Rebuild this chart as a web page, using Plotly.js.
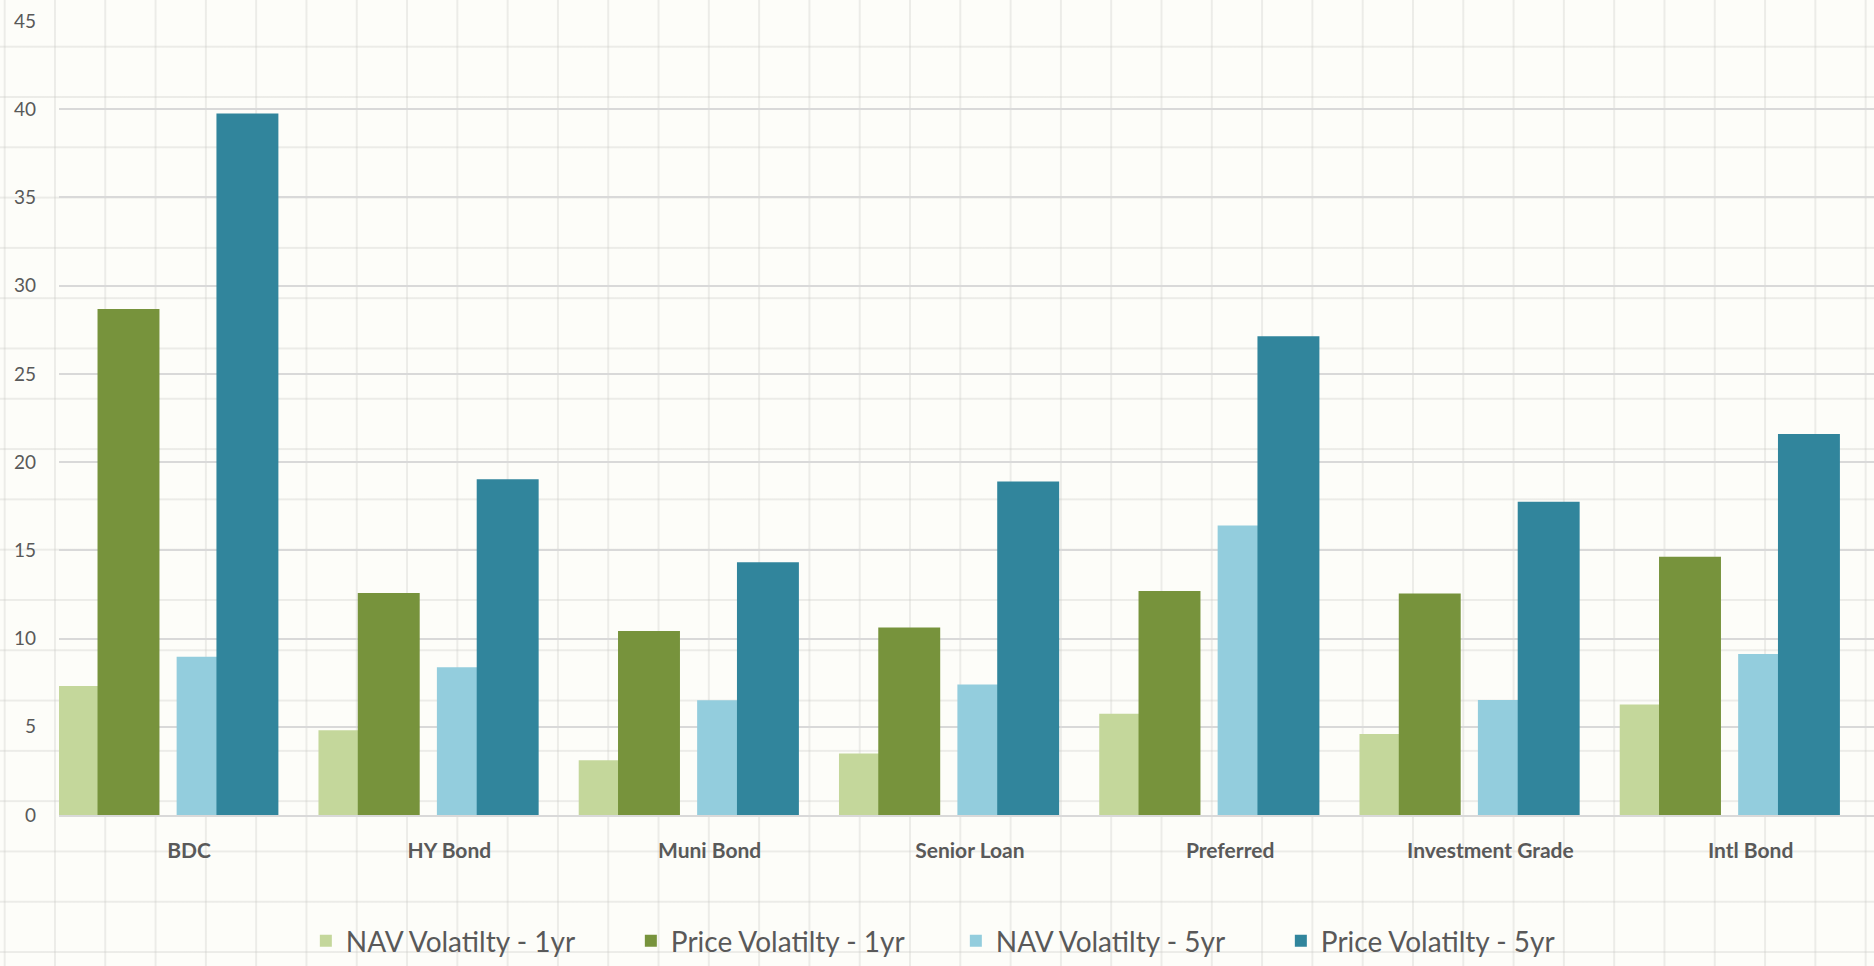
<!DOCTYPE html>
<html>
<head>
<meta charset="utf-8">
<script src="https://cdn.plot.ly/plotly-3.0.1.min.js"></script>
<style>
  html, body { margin: 0; padding: 0; }
  body {
    width: 1874px; height: 966px; overflow: hidden;
    background-color: #fdfdf9;
    background-image:
      linear-gradient(to right, rgba(200,200,196,0.32) 2px, transparent 2px),
      linear-gradient(to bottom, rgba(200,200,196,0.32) 2px, transparent 2px);
    background-size: 50.3px 50.3px;
    background-position: 3.7px -4.6px;
  }
  #chart { width: 1874px; height: 966px; }
</style>
</head>
<body>
<div id="chart"></div>
<script>
const categories = ["BDC", "HY Bond", "Muni Bond", "Senior Loan", "Preferred", "Investment Grade", "Intl Bond"];
const seriesNames = ["NAV Volatilty - 1yr", "Price Volatilty - 1yr", "NAV Volatilty - 5yr", "Price Volatilty - 5yr"];
const navVol1yr   = [7.31, 4.81, 3.10, 3.48, 5.74, 4.59, 6.26];
const priceVol1yr = [28.68, 12.58, 10.43, 10.62, 12.69, 12.55, 14.64];
const navVol5yr   = [8.97, 8.38, 6.50, 7.40, 16.41, 6.52, 9.12];
const priceVol5yr = [39.76, 19.03, 14.32, 18.90, 27.13, 17.76, 21.59];
const yTicks = [0, 5, 10, 15, 20, 25, 30, 35, 40, 45];

const colors = ["#c4d79b", "#77933c", "#93cddd", "#31859c"];
const offsets = [-0.503, -0.352, -0.048, 0.105];
const barWidth = 0.238;
const values = [navVol1yr, priceVol1yr, navVol5yr, priceVol5yr];

const traces = values.map((vals, i) => ({
  type: "bar",
  name: seriesNames[i],
  x: categories,
  y: vals,
  offset: offsets[i],
  width: barWidth,
  marker: { color: colors[i], line: { width: 0 } },
  hoverinfo: "x+y+name"
}));

const layout = {
  width: 1874,
  height: 966,
  paper_bgcolor: "rgba(0,0,0,0)",
  plot_bgcolor: "rgba(0,0,0,0)",
  barmode: "overlay",
  margin: { l: 59, r: 0, t: 21, b: 146, pad: 0 },
  font: { family: "Lato, 'Open Sans', sans-serif", color: "#595959" },
  xaxis: {
    type: "category",
    range: [-0.5, 6.474],
    showgrid: false,
    zeroline: false,
    showline: true,
    linecolor: "#d9d9d9",
    linewidth: 2,
    ticks: "",
    ticklabelstandoff: 16,
    tickfont: { family: "Lato, sans-serif", size: 21, color: "#595959", weight: "bold" }
  },
  yaxis: {
    range: [0, 45],
    tickvals: yTicks,
    ticktext: yTicks.map(String),
    showgrid: true,
    gridcolor: "#d9d9d9",
    gridwidth: 1.5,
    zeroline: false,
    showline: false,
    ticks: "",
    ticklabelstandoff: 22,
    tickfont: { family: "Lato, sans-serif", size: 19, color: "#595959" }
  },
  showlegend: true,
  legend: {
    orientation: "h",
    xref: "paper",
    yref: "paper",
    x: 0.136,
    xanchor: "left",
    y: -0.159,
    yanchor: "middle",
    entrywidth: 280,
    entrywidthmode: "pixels",
    bgcolor: "rgba(0,0,0,0)",
    font: { family: "Lato, sans-serif", size: 28, color: "#595959" }
  }
};

Plotly.newPlot("chart", traces, layout, { displayModeBar: false, responsive: false });
</script>
</body>
</html>
